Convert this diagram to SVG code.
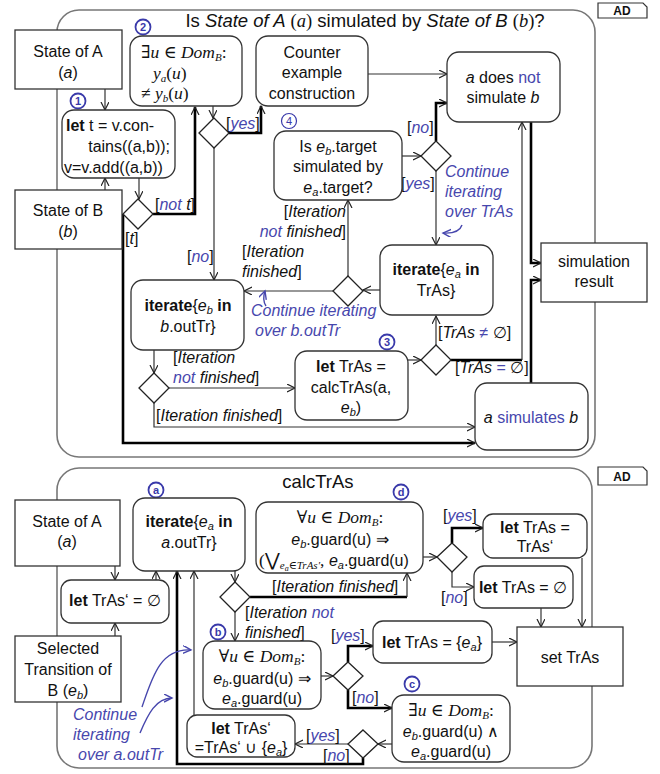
<svg xmlns="http://www.w3.org/2000/svg" width="660" height="774" viewBox="0 0 660 774">
<style>
text{font-family:"Liberation Sans",Arial,sans-serif;font-size:16px;fill:#111}
.c{text-anchor:middle}
.e{text-anchor:end}
.b{font-weight:bold}
.i{font-style:italic}
.m{font-family:"Liberation Serif","DejaVu Serif",serif;font-style:italic}
.mu{font-family:"Liberation Serif","DejaVu Serif",serif;font-style:normal}
.big{font-size:17.5px}
.bl{fill:#4747ad}
.ttl{font-size:18.5px}
.ad{font-size:12px;font-weight:bold}
.num{font-size:11px;font-weight:bold;fill:#3a3aaa;text-anchor:middle}
.sub{font-size:11px}
.box{fill:#fff;stroke:#333;stroke-width:1.3}
.frame{fill:none;stroke:#777;stroke-width:1.6}
.ln{fill:none;stroke:#333;stroke-width:1.2}
.thk{fill:none;stroke:#000;stroke-width:2.6}
.cur{fill:none;stroke:#4747ad;stroke-width:1.4}
.dia{fill:#fff;stroke:#222;stroke-width:1.3}
.circ{fill:#fff;stroke:#3a3aaa;stroke-width:1.8}
</style>
<defs>
<marker id="ar" markerUnits="userSpaceOnUse" markerWidth="10" markerHeight="10" refX="8" refY="4" orient="auto"><path d="M0,0 L8,4 L0,8" fill="none" stroke="#222" stroke-width="1.2"/></marker>
<marker id="arb" markerUnits="userSpaceOnUse" markerWidth="10" markerHeight="10" refX="8" refY="4" orient="auto"><path d="M0,0 L8,4 L0,8" fill="none" stroke="#4747ad" stroke-width="1.4"/></marker>
</defs>

<!-- ===== TOP DIAGRAM ===== -->
<g id="frame1">
<rect class="frame" x="57" y="10" width="538" height="447" rx="22"/>
<path d="M598,3 H643 L647,7 V18 H598 Z" fill="#fff" stroke="#333" stroke-width="1.2"/>
<text class="ad c" x="622" y="15">AD</text>
<text class="ttl c" x="365" y="27">Is <tspan class="i">State of A</tspan> <tspan class="mu">(</tspan><tspan class="m">a</tspan><tspan class="mu">)</tspan> simulated by <tspan class="i">State of B</tspan> <tspan class="mu">(</tspan><tspan class="m">b</tspan><tspan class="mu">)</tspan>?</text>
</g>

<g id="connectors1">
<path class="ln" d="M105,89 V110" marker-end="url(#ar)"/>
<path class="ln" d="M105,190 V178" marker-end="url(#ar)"/>
<path class="ln" d="M139,178 V199" marker-end="url(#ar)"/>
<path class="thk" d="M153,214 H195 V107" marker-end="url(#ar)"/>
<path class="thk" d="M123,214 V443 H475" marker-end="url(#ar)"/>
<path class="ln" d="M213,106 V118" marker-end="url(#ar)"/>
<path class="thk" d="M229,133 H261 V106" marker-end="url(#ar)"/>
<path class="ln" d="M214,148 V280" marker-end="url(#ar)"/>
<path class="ln" d="M368,74 H447" marker-end="url(#ar)"/>
<path class="ln" d="M402,156 H421" marker-end="url(#ar)"/>
<path class="thk" d="M436,141 V103 H447" marker-end="url(#ar)"/>
<path class="ln" d="M436,171 V245" marker-end="url(#ar)"/>
<path class="ln" d="M380,290 H363" marker-end="url(#ar)"/>
<path class="ln" d="M348,276 V200" marker-end="url(#ar)"/>
<path class="ln" d="M333,291 H244" marker-end="url(#ar)"/>
<path class="ln" d="M154,350 V373" marker-end="url(#ar)"/>
<path class="ln" d="M169,388 H295" marker-end="url(#ar)"/>
<path class="ln" d="M154,403 V427 H475" marker-end="url(#ar)"/>
<path class="ln" d="M408,360 H421" marker-end="url(#ar)"/>
<path class="ln" d="M436,345 V316" marker-end="url(#ar)"/>
<path class="thk" d="M451,360 H522"/>
<path class="ln" d="M522,360 V122" marker-end="url(#ar)"/>
<path class="thk" d="M531,122 V263 H541" marker-end="url(#ar)"/>
<path class="thk" d="M531,383 V280 H541" marker-end="url(#ar)"/>
<path class="cur" d="M462,225 Q459,234 443,233" marker-end="url(#arb)"/>
<path class="cur" d="M266,306 Q262,300 265,291" marker-end="url(#arb)"/>
<!-- labels -->
<text x="155" y="210">[<tspan class="i bl">not</tspan> <tspan class="i">t</tspan>]</text>
<text x="125" y="244">[<tspan class="i">t</tspan>]</text>
<text x="226" y="129">[<tspan class="i bl">yes</tspan>]</text>
<text x="187" y="262">[<tspan class="i bl">no</tspan>]</text>
<text x="407" y="133">[<tspan class="i bl">no</tspan>]</text>
<text x="401" y="189">[<tspan class="i bl">yes</tspan>]</text>
<text class="i bl" x="445" y="177">Continue</text>
<text class="i bl" x="445" y="197">iterating</text>
<text class="i bl" x="445" y="217">over TrAs</text>
<text class="e" x="346" y="217">[<tspan class="i">Iteration</tspan></text>
<text class="e" x="346" y="237"><tspan class="i bl">not</tspan> <tspan class="i">finished</tspan>]</text>
<text x="242" y="257">[<tspan class="i">Iteration</tspan></text>
<text x="242" y="277"><tspan class="i">finished</tspan>]</text>
<text class="i bl" x="251" y="316">Continue iterating</text>
<text class="i bl" x="255" y="336">over b.outTr</text>
<text x="173" y="363">[<tspan class="i">Iteration</tspan></text>
<text x="173" y="383"><tspan class="i bl">not</tspan> <tspan class="i">finished</tspan>]</text>
<text x="156" y="421">[<tspan class="i">Iteration finished</tspan>]</text>
<text x="438" y="338">[<tspan class="i">TrAs</tspan> <tspan class="bl">≠</tspan> ∅]</text>
<text x="455" y="373">[<tspan class="i">TrAs</tspan> <tspan class="bl">=</tspan> ∅]</text>
</g>

<g id="stateA1"><rect class="box" x="15" y="30" width="107" height="59"/>
<text class="c" x="68" y="57">State of A</text><text class="c" x="68" y="78">(<tspan class="i">a</tspan>)</text></g>
<g id="n1"><circle class="circ" cx="78" cy="101" r="7.5"/><text class="num" x="78" y="105">1</text></g>
<g id="letT"><rect class="box" x="62" y="110" width="113" height="68" rx="12"/>
<text x="66" y="131"><tspan class="b">let</tspan> t =  v.con-</text>
<text class="e" x="170" y="152">tains((a,b));</text>
<text x="64" y="173">v=v.add((a,b))</text></g>
<g id="stateB1"><rect class="box" x="15" y="190" width="107" height="59"/>
<text class="c" x="68" y="216">State of B</text><text class="c" x="68" y="237">(<tspan class="i">b</tspan>)</text></g>
<g id="n2"><circle class="circ" cx="143" cy="27" r="7.5"/><text class="num" x="143" y="31">2</text></g>
<g id="box2"><rect class="box" x="130" y="36" width="112" height="70" rx="12"/>
<text class="mu big" x="141" y="58">∃<tspan class="m">u</tspan> ∈ <tspan class="m">Dom<tspan class="sub" dy="3">B</tspan></tspan><tspan dy="-3">:</tspan></text>
<text class="m big" x="153" y="79">y<tspan class="sub" dy="3">a</tspan><tspan class="mu" dy="-3">(</tspan>u<tspan class="mu">)</tspan></text>
<text class="mu big" x="141" y="99">≠ <tspan class="m">y</tspan><tspan class="m sub" dy="3">b</tspan><tspan dy="-3">(</tspan><tspan class="m">u</tspan>)</text></g>
<g id="counter"><rect class="box" x="256" y="36" width="112" height="70" rx="12"/>
<text class="c" x="312" y="58">Counter</text><text class="c" x="312" y="78">example</text><text class="c" x="312" y="99">construction</text></g>
<g id="notSim"><rect class="box" x="447" y="52" width="113" height="70" rx="12"/>
<text class="c" x="503" y="83"><tspan class="i">a</tspan> does <tspan class="bl">not</tspan></text>
<text class="c" x="503" y="103">simulate <tspan class="i">b</tspan></text></g>
<g id="n4"><circle cx="289" cy="121" r="7.5" fill="#fff" stroke="#3a3aaa" stroke-width="1.2"/><text class="num" x="289" y="125" style="font-weight:normal">4</text></g>
<g id="box4"><rect class="box" x="274" y="131" width="128" height="69" rx="12"/>
<text class="c" x="338" y="152">Is <tspan class="i">e<tspan class="sub" dy="3">b</tspan></tspan><tspan dy="-3">.target</tspan></text>
<text class="c" x="338" y="172">simulated by</text>
<text class="c" x="338" y="193"><tspan class="i">e<tspan class="sub" dy="3">a</tspan></tspan><tspan dy="-3">.target?</tspan></text></g>
<g id="iterA"><rect class="box" x="380" y="245" width="113" height="70" rx="12"/>
<text class="c" x="436" y="275"><tspan class="b">iterate</tspan>{<tspan class="i">e<tspan class="sub" dy="3">a</tspan></tspan><tspan class="b" dy="-3"> in</tspan></text>
<text class="c" x="436" y="296">TrAs}</text></g>
<g id="iterB"><rect class="box" x="131" y="280" width="113" height="70" rx="12"/>
<text class="c" x="188" y="311"><tspan class="b">iterate</tspan>{<tspan class="i">e<tspan class="sub" dy="3">b</tspan></tspan><tspan class="b" dy="-3"> in</tspan></text>
<text class="c" x="188" y="332"><tspan class="i">b</tspan>.outTr}</text></g>
<g id="n3"><circle class="circ" cx="387" cy="342" r="7.5"/><text class="num" x="387" y="346">3</text></g>
<g id="letTrAs"><rect class="box" x="295" y="351" width="113" height="69" rx="12"/>
<text class="c" x="351" y="372"><tspan class="b">let</tspan> TrAs =</text>
<text class="c" x="351" y="393">calcTrAs(a,</text>
<text class="c" x="351" y="413"><tspan class="i">e<tspan class="sub" dy="3">b</tspan></tspan><tspan dy="-3">)</tspan></text></g>
<g id="simulates"><rect class="box" x="475" y="383" width="113" height="67" rx="12"/>
<text class="c" x="531" y="423"><tspan class="i">a</tspan> <tspan class="bl">simulates</tspan> <tspan class="i">b</tspan></text></g>
<g id="simres"><rect class="box" x="541" y="243" width="106" height="59"/>
<text class="c" x="594" y="267">simulation</text><text class="c" x="594" y="287">result</text></g>
<g id="d1"><path class="dia" d="M138,199 L153,214 L138,229 L123,214 Z"/></g>
<g id="d2"><path class="dia" d="M214,118 L229,133 L214,148 L199,133 Z"/></g>
<g id="d3"><path class="dia" d="M436,141 L451,156 L436,171 L421,156 Z"/></g>
<g id="d4"><path class="dia" d="M348,276 L363,291 L348,306 L333,291 Z"/></g>
<g id="d5"><path class="dia" d="M154,373 L169,388 L154,403 L139,388 Z"/></g>
<g id="d6"><path class="dia" d="M436,345 L451,360 L436,375 L421,360 Z"/></g>

<!-- ===== BOTTOM DIAGRAM ===== -->
<g id="frame2">
<rect class="frame" x="57" y="468" width="535" height="300" rx="22"/>
<path d="M598,467 H643 L647,471 V485 H598 Z" fill="#fff" stroke="#333" stroke-width="1.2"/>
<text class="ad c" x="622" y="481">AD</text>
<text class="ttl c" x="318" y="488">calcTrAs</text>
</g>

<g id="connectors2">
<path class="ln" d="M115,566 V580" marker-end="url(#ar)"/>
<path class="ln" d="M115,636 V623" marker-end="url(#ar)"/>
<path class="ln" d="M156,580 V571" marker-end="url(#ar)"/>
<path class="ln" d="M235,571 V582" marker-end="url(#ar)"/>
<path class="thk" d="M250,597 H407"/>
<path class="ln" d="M407,597 V573" marker-end="url(#ar)"/>
<path class="ln" d="M235,612 V641" marker-end="url(#ar)"/>
<path class="ln" d="M321,676 H333" marker-end="url(#ar)"/>
<path class="thk" d="M348,662 V646 H373" marker-end="url(#ar)"/>
<path class="thk" d="M348,690 V708 H392" marker-end="url(#ar)"/>
<path class="ln" d="M492,642 H517" marker-end="url(#ar)"/>
<path class="ln" d="M392,744 H378" marker-end="url(#ar)"/>
<path class="ln" d="M348,744 H295" marker-end="url(#ar)"/>
<path class="thk" d="M363,758 V764 H177 V571" marker-end="url(#ar)"/>
<path class="ln" d="M194,715 V571" marker-end="url(#ar)"/>
<path class="ln" d="M423,557 H437" marker-end="url(#ar)"/>
<path class="thk" d="M452,543 V528 H483" marker-end="url(#ar)"/>
<path class="ln" d="M452,572 V587 H474" marker-end="url(#ar)"/>
<path class="ln" d="M541,608 V627" marker-end="url(#ar)"/>
<path class="ln" d="M582,558 V627" marker-end="url(#ar)"/>
<path class="cur" d="M142,707 C152,678 160,648 191,650" marker-end="url(#arb)"/>
<path class="cur" d="M140,733 C148,714 156,698 172,698" marker-end="url(#arb)"/>
<text x="272" y="592">[<tspan class="i">Iteration finished</tspan>]</text>
<text x="245" y="618">[<tspan class="i">Iteration</tspan> <tspan class="i bl">not</tspan></text>
<text x="245" y="638"><tspan class="i">finished</tspan>]</text>
<text x="331" y="641">[<tspan class="i bl">yes</tspan>]</text>
<text x="352" y="703">[<tspan class="i bl">no</tspan>]</text>
<text x="306" y="741">[<tspan class="i bl">yes</tspan>]</text>
<text x="323" y="761">[<tspan class="i bl">no</tspan>]</text>
<text x="443" y="521">[<tspan class="i bl">yes</tspan>]</text>
<text x="441" y="603">[<tspan class="i bl">no</tspan>]</text>
<text class="i bl" x="73" y="720">Continue</text>
<text class="i bl" x="73" y="740">iterating</text>
<text class="i bl" x="78" y="760">over a.outTr</text>
</g>

<g id="stateA2"><rect class="box" x="15" y="500" width="105" height="66"/>
<text class="c" x="67" y="527">State of A</text><text class="c" x="67" y="547">(<tspan class="i">a</tspan>)</text></g>
<g id="letTrAsP"><rect class="box" x="61" y="580" width="108" height="43" rx="10"/>
<text class="c" x="115" y="606"><tspan class="b">let</tspan> TrAs‘ = ∅</text></g>
<g id="selected"><rect class="box" x="15" y="636" width="106" height="66"/>
<text class="c" x="68" y="654">Selected</text><text class="c" x="68" y="675">Transition of</text>
<text class="c" x="68" y="696">B (<tspan class="i">e<tspan class="sub" dy="3">b</tspan></tspan><tspan dy="-3">)</tspan></text></g>
<g id="na"><circle class="circ" cx="156" cy="490" r="7.5"/><text class="num" x="156" y="494">a</text></g>
<g id="iterA2"><rect class="box" x="133" y="498" width="112" height="73" rx="12"/>
<text class="c" x="189" y="527"><tspan class="b">iterate</tspan>{<tspan class="i">e<tspan class="sub" dy="3">a</tspan></tspan><tspan class="b" dy="-3"> in</tspan></text>
<text class="c" x="189" y="548"><tspan class="i">a</tspan>.outTr}</text></g>
<g id="nb"><circle class="circ" cx="218" cy="632" r="7.5"/><text class="num" x="218" y="636">b</text></g>
<g id="boxB"><rect class="box" x="203" y="641" width="118" height="68" rx="12"/>
<text class="c mu big" x="262" y="662">∀<tspan class="m">u</tspan> ∈ <tspan class="m">Dom<tspan class="sub" dy="3">B</tspan></tspan><tspan dy="-3">:</tspan></text>
<text class="c" x="262" y="684"><tspan class="i">e<tspan class="sub" dy="3">b</tspan></tspan><tspan dy="-3">.guard(u) ⇒</tspan></text>
<text class="c" x="262" y="704"><tspan class="i">e<tspan class="sub" dy="3">a</tspan></tspan><tspan dy="-3">.guard(u)</tspan></text></g>
<g id="letEa"><rect class="box" x="373" y="621" width="119" height="42" rx="10"/>
<text class="c" x="432" y="648"><tspan class="b">let</tspan> TrAs = {<tspan class="i">e<tspan class="sub" dy="3">a</tspan></tspan><tspan dy="-3">}</tspan></text></g>
<g id="setTrAs"><rect class="box" x="517" y="627" width="106" height="59"/>
<text class="c" x="570" y="663">set TrAs</text></g>
<g id="nc"><circle class="circ" cx="412" cy="684" r="7.5"/><text class="num" x="412" y="688">c</text></g>
<g id="boxC"><rect class="box" x="392" y="695" width="118" height="67" rx="12"/>
<text class="c mu big" x="451" y="716">∃<tspan class="m">u</tspan> ∈ <tspan class="m">Dom<tspan class="sub" dy="3">B</tspan></tspan><tspan dy="-3">:</tspan></text>
<text class="c" x="451" y="737"><tspan class="i">e<tspan class="sub" dy="3">b</tspan></tspan><tspan dy="-3">.guard(u) ∧</tspan></text>
<text class="c" x="451" y="757"><tspan class="i">e<tspan class="sub" dy="3">a</tspan></tspan><tspan dy="-3">.guard(u)</tspan></text></g>
<g id="letUnion"><rect class="box" x="187" y="715" width="108" height="42" rx="10"/>
<text class="c" x="241" y="734"><tspan class="b">let</tspan> TrAs‘</text>
<text class="c" x="241" y="753">=TrAs‘ ∪ {<tspan class="i">e<tspan class="sub" dy="3">a</tspan></tspan><tspan dy="-3">}</tspan></text></g>
<g id="nd"><circle class="circ" cx="401" cy="492" r="7.5"/><text class="num" x="401" y="496">d</text></g>
<g id="boxD"><rect class="box" x="256" y="502" width="167" height="71" rx="12"/>
<text class="c mu big" x="340" y="523">∀<tspan class="m">u</tspan> ∈ <tspan class="m">Dom<tspan class="sub" dy="3">B</tspan></tspan><tspan dy="-3">:</tspan></text>
<text class="c" x="340" y="545"><tspan class="i">e<tspan class="sub" dy="3">b</tspan></tspan><tspan dy="-3">.guard(u) ⇒</tspan></text>
<text x="259" y="566"><tspan class="mu big">(⋁</tspan><tspan class="m sub" dy="3">e</tspan><tspan class="m" dy="2" font-size="8">a</tspan><tspan class="m sub" dy="-2">∈TrAs′</tspan><tspan class="mu big" dy="-3">,</tspan> <tspan class="i">e<tspan class="sub" dy="3">a</tspan></tspan><tspan dy="-3">.guard(u)</tspan></text></g>
<g id="letEqP"><rect class="box" x="483" y="514" width="104" height="44" rx="10"/>
<text class="c" x="535" y="533"><tspan class="b">let</tspan> TrAs =</text>
<text class="c" x="535" y="552">TrAs‘</text></g>
<g id="letEmpty"><rect class="box" x="474" y="566" width="99" height="42" rx="10"/>
<text class="c" x="523" y="593"><tspan class="b">let</tspan> TrAs = ∅</text></g>
<g id="da"><path class="dia" d="M235,582 L250,597 L235,612 L220,597 Z"/></g>
<g id="db"><path class="dia" d="M348,662 L363,676 L348,690 L333,676 Z"/></g>
<g id="dc"><path class="dia" d="M363,730 L378,744 L363,758 L348,744 Z"/></g>
<g id="dd"><path class="dia" d="M452,543 L467,557 L452,572 L437,557 Z"/></g>
</svg>
